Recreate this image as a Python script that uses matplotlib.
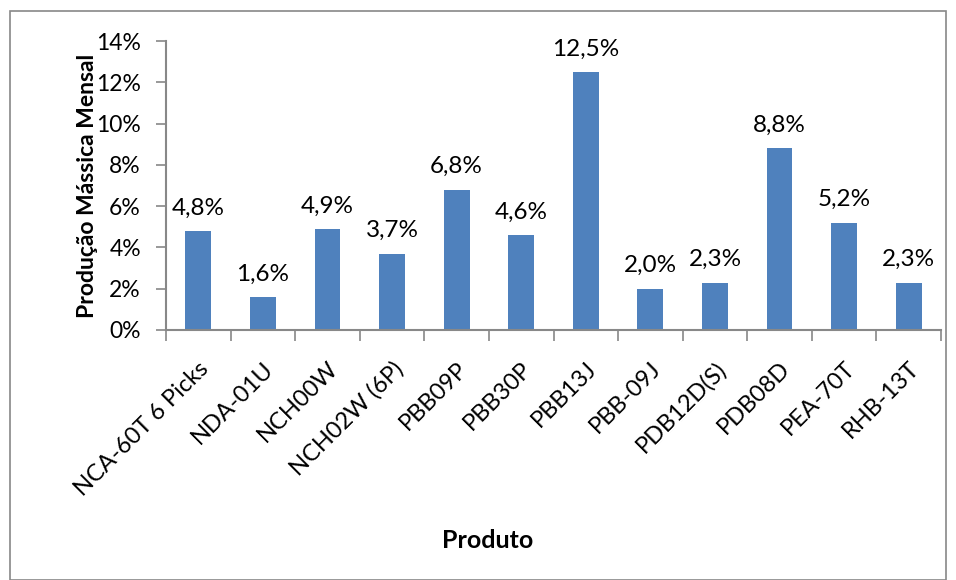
import matplotlib
matplotlib.use('Agg')
import matplotlib.pyplot as plt
from matplotlib.patches import Rectangle
from matplotlib.ticker import FuncFormatter, FixedLocator

# data
produtos = ['NCA-60T 6 Picks', 'NDA-01U', 'NCH00W', 'NCH02W (6P)', 'PBB09P', 'PBB30P',
            'PBB13J', 'PBB-09J', 'PDB12D(S)', 'PDB08D', 'PEA-70T', 'RHB-13T']
producao = [4.8, 1.6, 4.9, 3.7, 6.8, 4.6, 12.5, 2.0, 2.3, 8.8, 5.2, 2.3]  # percent

plt.rcParams['font.family'] = ['Lato', 'DejaVu Sans']

fig = plt.figure(figsize=(9.56, 5.8), dpi=100)
ax = fig.add_axes([166/956, 1-330/580, (941-166)/956, (330-41)/580])

x = list(range(len(produtos)))
ax.bar(x, producao, width=0.4, color='#4F81BD')

for xi, v in zip(x, producao):
    ax.annotate(f'{v:.1f}%'.replace('.', ','), (xi, v), xytext=(0, 9),
                textcoords='offset points', ha='center', va='bottom', fontsize=17.5)

ax.set_xlim(-0.5, len(produtos) - 0.5)
ax.set_ylim(0, 14)
ax.set_yticks(range(0, 15, 2))
ax.yaxis.set_major_formatter(FuncFormatter(lambda v, p: f'{v:.0f}%'))
ax.set_xticks(x)
ax.set_xticklabels(produtos, rotation=45, ha='right', rotation_mode='anchor', fontsize=17)
ax.xaxis.set_minor_locator(FixedLocator([i - 0.5 for i in range(len(produtos) + 1)]))
ax.tick_params(axis='x', which='major', length=0, pad=20)
ax.tick_params(axis='x', which='minor', length=8, color='#888888', width=1.2)
ax.tick_params(axis='y', length=7, color='#888888', width=1.2, labelsize=16.5, pad=11)

for s in ['top', 'right']:
    ax.spines[s].set_visible(False)
for s in ['left', 'bottom']:
    ax.spines[s].set_color('#888888')
    ax.spines[s].set_linewidth(1.5)

ax.set_ylabel('Produção Mássica Mensal', fontsize=16.5, fontweight='bold', va='center')
ax.yaxis.set_label_coords(-(166-88)/775, 0.5)
fig.text(488/956, 1-540/580, 'Produto', fontsize=18, fontweight='bold', ha='center', va='center')

# chart area border
fig.patches.append(Rectangle((10/956, 0), (946-10)/956, 1-11/580, transform=fig.transFigure,
                             fill=False, edgecolor='#888888', linewidth=1.2))

fig.savefig('out.png', dpi=100)
